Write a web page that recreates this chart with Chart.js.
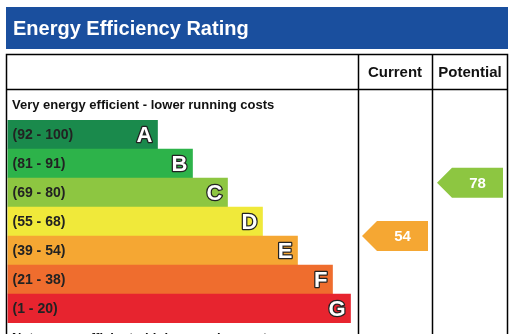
<!DOCTYPE html>
<html>
<head>
<meta charset="utf-8">
<script src="https://cdn.jsdelivr.net/npm/chart.js@4"></script>
<style>
  html, body { margin: 0; padding: 0; background: #fff; }
  #wrap { position: relative; width: 511px; height: 334px; }
</style>
</head>
<body>
<div id="wrap"><canvas id="epc-chart"></canvas></div>
<script>
// Bands, top (best) to bottom (worst)
const bandLetters = ['A', 'B', 'C', 'D', 'E', 'F', 'G'];
const bandLow = [92, 81, 69, 55, 39, 21, 1];
const bandHigh = [100, 91, 80, 68, 54, 38, 20];
const barLengths = [150, 185, 220, 255, 290, 325, 343];
const bandColors = ['#1a8a4c', '#2db34a', '#8dc641', '#f0e93a', '#f5a733', '#ef6d2e', '#e7242f'];

const currentRating = 54;
const potentialRating = 78;

function bandIndex(v) {
    for (let i = 0; i < bandLow.length; i++) {
        if (v >= bandLow[i] && v <= bandHigh[i]) return i;
    }
    return bandLow.length - 1;
}

// position inside the band, as a fractional category index
function ratingPos(v) {
    const i = bandIndex(v);
    return i - 0.5 + (bandHigh[i] - v) / (bandHigh[i] - bandLow[i] + 1);
}

const font = '"Liberation Sans", Arial, sans-serif';

const epcPlugin = {
    id: 'epc',
    beforeDraw(chart) {
        const ctx = chart.ctx;
        ctx.save();
        // title bar
        ctx.fillStyle = '#1a4f9e';
        ctx.fillRect(6, 7, 502, 42);
        ctx.fillStyle = '#fff';
        ctx.font = 'bold 20px ' + font;
        ctx.textBaseline = 'alphabetic';
        ctx.fillText('Energy Efficiency Rating', 13, 35);

        // table grid
        ctx.strokeStyle = '#000';
        ctx.lineWidth = 1.5;
        ctx.beginPath();
        ctx.moveTo(6.5, 340); ctx.lineTo(6.5, 54.5); ctx.lineTo(507.5, 54.5); ctx.lineTo(507.5, 340);
        ctx.moveTo(6.5, 89.5); ctx.lineTo(507.5, 89.5);
        ctx.moveTo(358.5, 54.5); ctx.lineTo(358.5, 340);
        ctx.moveTo(432.5, 54.5); ctx.lineTo(432.5, 340);
        ctx.stroke();

        ctx.fillStyle = '#111';
        ctx.font = 'bold 15px ' + font;
        ctx.textAlign = 'center';
        ctx.fillText('Current', 395, 77);
        ctx.fillText('Potential', 470, 77);

        ctx.textAlign = 'left';
        ctx.font = 'bold 13px ' + font;
        ctx.fillText('Very energy efficient - lower running costs', 12, 109);
        ctx.fillText('Not energy efficient - higher running costs', 12, 342);
        ctx.restore();
    },
    afterDatasetsDraw(chart) {
        const ctx = chart.ctx;
        const meta = chart.getDatasetMeta(0);
        ctx.save();
        ctx.textBaseline = 'middle';
        meta.data.forEach((bar, i) => {
            ctx.fillStyle = '#222';
            ctx.font = 'bold 14px ' + font;
            ctx.textAlign = 'left';
            ctx.fillText('(' + bandLow[i] + ' - ' + bandHigh[i] + ')', bar.base + 5, bar.y + 1);

            ctx.font = 'bold 22px ' + font;
            ctx.textAlign = 'right';
            ctx.lineWidth = 2.5;
            ctx.strokeStyle = '#222';
            ctx.lineJoin = 'round';
            ctx.strokeText(bandLetters[i], bar.x - 5, bar.y + 1);
            ctx.fillStyle = '#fff';
            ctx.fillText(bandLetters[i], bar.x - 5, bar.y + 1);
        });

        // rating arrows
        const yScale = chart.scales.y;
        const drawArrow = (v, left, right) => {
            const cy = yScale.getPixelForValue(ratingPos(v));
            const h = 30, tip = 15;
            ctx.fillStyle = bandColors[bandIndex(v)];
            ctx.beginPath();
            ctx.moveTo(left, cy);
            ctx.lineTo(left + tip, cy - h / 2);
            ctx.lineTo(right, cy - h / 2);
            ctx.lineTo(right, cy + h / 2);
            ctx.lineTo(left + tip, cy + h / 2);
            ctx.closePath();
            ctx.fill();
            ctx.fillStyle = '#fff';
            ctx.font = 'bold 15px ' + font;
            ctx.textAlign = 'center';
            ctx.fillText(String(v), (left + tip + right) / 2, cy + 1);
        };
        drawArrow(currentRating, 362, 428);
        drawArrow(potentialRating, 437, 503);
        ctx.restore();
    }
};

const ctx = document.getElementById('epc-chart').getContext('2d');
new Chart(ctx, {
    type: 'bar',
    data: {
        labels: bandLetters,
        datasets: [{
            data: barLengths,
            backgroundColor: bandColors,
            borderWidth: 0,
            barPercentage: 1,
            categoryPercentage: 1
        }]
    },
    options: {
        indexAxis: 'y',
        responsive: true,
        maintainAspectRatio: false,
        animation: false,
        layout: { padding: { top: 120, bottom: 11, left: 7.5, right: 3 } },
        plugins: { legend: { display: false }, tooltip: { enabled: false } },
        scales: {
            x: { display: false, min: 0, max: 500.5 },
            y: { display: false }
        }
    },
    plugins: [epcPlugin]
});
</script>
</body>
</html>
